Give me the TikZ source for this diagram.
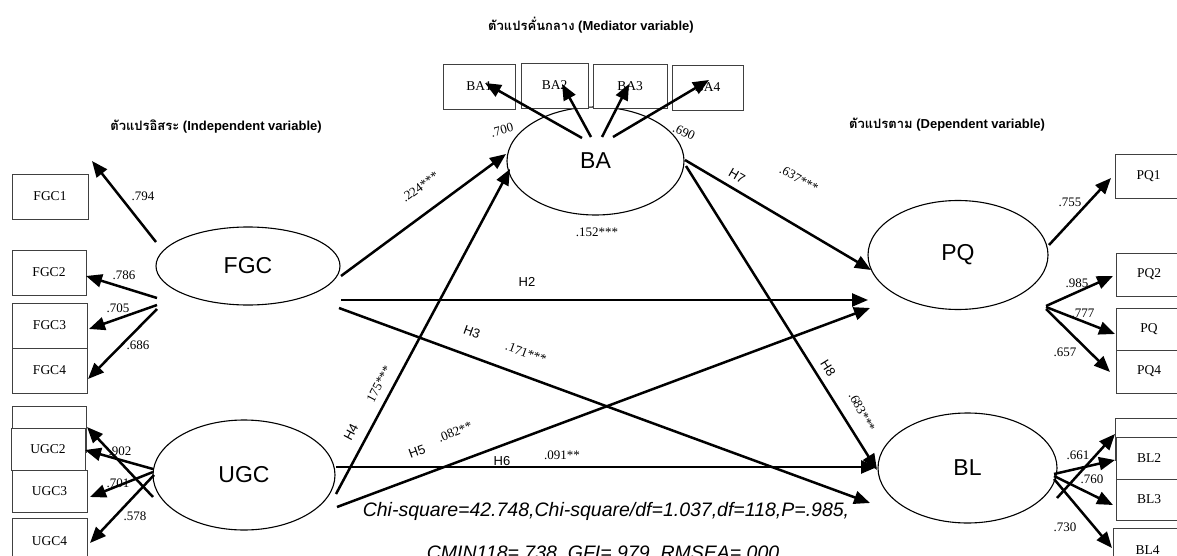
\documentclass[tikz,border=0pt]{standalone}
\usepackage{fontspec}
\setmainfont{Liberation Sans}
\newfontfamily\tnr{Liberation Serif}
\newfontfamily\thaifont[Script=Thai]{Loma}
\usetikzlibrary{arrows.meta,shapes.geometric}
\begin{document}
\begin{tikzpicture}[x=1pt,y=-1pt,
  arr/.style={line width=2.5pt,-{Triangle[length=16pt,width=13pt]}},
  box/.style={draw=black!75,line width=0.9pt,fill=white,inner sep=0pt,font=\tnr\fontsize{13.5}{15}\selectfont},
  lat/.style={ellipse,draw,line width=1.1pt,inner sep=0pt,font=\fontsize{23}{26}\selectfont},
  num/.style={font=\tnr\fontsize{13}{15}\selectfont,inner sep=0pt},
  hyp/.style={font=\fontsize{13}{15}\selectfont,inner sep=0pt},
  head/.style={font=\bfseries\fontsize{13}{15}\selectfont,inner sep=0pt},
  fit/.style={font=\itshape\fontsize{19.5}{22}\selectfont,inner sep=0pt,anchor=base},
]
\useasboundingbox (0,0) rectangle (1177,556);

% headings
\node[head] (hMed) at (591,25) {{\thaifont\bfseries ตัวแปรคั่นกลาง} (Mediator variable)};
\node[head] (hInd) at (216,127) {{\thaifont\bfseries ตัวแปรอิสระ} (Independent variable)};
\node[head] (hDep) at (947,125) {{\thaifont\bfseries ตัวแปรตาม} (Dependent variable)};

% latent variables
\node[lat,minimum width=184pt,minimum height=78pt] (FGC) at (248,266) {FGC};
\node[lat,minimum width=182pt,minimum height=110pt] (UGC) at (244,475) {UGC};
\node[lat,minimum width=177pt,minimum height=108pt] (BA) at (595.5,161) {BA};
\node[lat,minimum width=180pt,minimum height=109pt] (PQ) at (958,255) {PQ};
\node[lat,minimum width=179pt,minimum height=110pt] (BL) at (967.5,468) {BL};

% left boxes
\node[box,minimum width=76pt,minimum height=45pt] (FGC1) at (50,196.5) {FGC1};
\node[box,minimum width=74pt,minimum height=45pt] (FGC2) at (49,272.5) {FGC2};
\node[box,minimum width=75pt,minimum height=45pt] (FGC3) at (49.5,325.5) {FGC3};
\node[box,minimum width=75pt,minimum height=45pt] (FGC4) at (49.5,370.5) {FGC4};
\node[box,minimum width=74pt,minimum height=46pt] (UGC1) at (49,429) {};
\node[box,minimum width=74pt,minimum height=42pt] (UGC2) at (48,449) {UGC2};
\node[box,minimum width=75pt,minimum height=42pt] (UGC3) at (49.5,491) {UGC3};
\node[box,minimum width=75pt,minimum height=47pt] (UGC4) at (49.5,541.5) {UGC4};

% BA boxes
\node[box,minimum width=72pt,minimum height=45pt] (BA1) at (479,86.5) {BA1};
\node[box,minimum width=67pt,minimum height=45pt] (BA2) at (554.5,85.5) {BA2};
\node[box,minimum width=74pt,minimum height=44pt] (BA3) at (630,86) {BA3};
\node[box,minimum width=71pt,minimum height=45pt] (BA4) at (707.5,87.5) {BA4};

% right boxes
\node[box,minimum width=67pt,minimum height=44pt] (PQ1) at (1148.5,176) {PQ1};
\node[box,minimum width=66pt,minimum height=43pt] (PQ2) at (1149,274.5) {PQ2};
\node[box,minimum width=66pt,minimum height=42pt] (PQ3) at (1149,329) {PQ};
\node[box,minimum width=66pt,minimum height=43pt] (PQ4) at (1149,371.5) {PQ4};
\node[box,minimum width=67pt,minimum height=42pt] (BL1) at (1148.5,439) {};
\node[box,minimum width=66pt,minimum height=42pt] (BL2) at (1149,458) {BL2};
\node[box,minimum width=66pt,minimum height=41pt] (BL3) at (1149,499.5) {BL3};
\node[box,minimum width=69pt,minimum height=44pt] (BL4) at (1147.5,550) {BL4};

% connector end points
\coordinate (fs1) at (156,242);  \coordinate (ft1) at (92,161);
\coordinate (fs2) at (157,298);  \coordinate (ft2) at (86,276);
\coordinate (fs3) at (157,305);  \coordinate (ft3) at (89,329);
\coordinate (fs4) at (157,309);  \coordinate (ft4) at (88,379);
\coordinate (us1) at (153,497);  \coordinate (ut1) at (87,427);
\coordinate (us2) at (153,469);  \coordinate (ut2) at (85,450);
\coordinate (us3) at (153,472);  \coordinate (ut3) at (90,497);
\coordinate (us4) at (154,475);  \coordinate (ut4) at (90,543);
\coordinate (bs1) at (582,138);  \coordinate (bt1) at (485,83);
\coordinate (bs2) at (591,137);  \coordinate (bt2) at (562,84);
\coordinate (bs3) at (602,137);  \coordinate (bt3) at (629,84);
\coordinate (bs4) at (613,137);  \coordinate (bt4) at (709,80);
\coordinate (ps1) at (1049,245); \coordinate (pt1) at (1111,178);
\coordinate (ps2) at (1046,306); \coordinate (pt2) at (1113,276);
\coordinate (ps3) at (1046,307); \coordinate (pt3) at (1115,334);
\coordinate (ps4) at (1046,309); \coordinate (pt4) at (1110,372);
\coordinate (ls1) at (1057,498); \coordinate (lt1) at (1115,434);
\coordinate (ls2) at (1054,474); \coordinate (lt2) at (1115,460);
\coordinate (ls3) at (1054,476); \coordinate (lt3) at (1113,505);
\coordinate (ls4) at (1054,479); \coordinate (lt4) at (1112,548);

\coordinate (fgcBAs) at (341,276); \coordinate (fgcBAt) at (506,154);
\coordinate (ugcBAs) at (336,494); \coordinate (ugcBAt) at (510,169);
\coordinate (fgcPQs) at (341,300); \coordinate (fgcPQt) at (868,300);
\coordinate (fgcBLs) at (339,308); \coordinate (fgcBLt) at (870,503);
\coordinate (ugcPQs) at (337,507); \coordinate (ugcPQt) at (870,308);
\coordinate (ugcBLs) at (336,467); \coordinate (ugcBLt) at (877,467);
\coordinate (baPQs)  at (685,160); \coordinate (baPQt)  at (871,270);
\coordinate (baBLs)  at (686,166); \coordinate (baBLt)  at (877,470);

% measurement arrows
\foreach \s/\t in {fs1/ft1,fs2/ft2,fs3/ft3,fs4/ft4,us1/ut1,us2/ut2,us3/ut3,us4/ut4,
                   bs1/bt1,bs2/bt2,bs3/bt3,bs4/bt4,ps1/pt1,ps2/pt2,ps3/pt3,ps4/pt4,
                   ls1/lt1,ls2/lt2,ls3/lt3,ls4/lt4}
  \draw[arr] (\s) -- (\t);

% structural arrows
\foreach \s/\t in {fgcBAs/fgcBAt,ugcBAs/ugcBAt,fgcPQs/fgcPQt,fgcBLs/fgcBLt,
                   ugcPQs/ugcPQt,ugcBLs/ugcBLt,baPQs/baPQt,baBLs/baBLt}
  \draw[arr] (\s) -- (\t);

% loadings
\node[num] (l794) at (143,196) {.794};
\node[num] (l786) at (124,275) {.786};
\node[num] (l705) at (118,308) {.705};
\node[num] (l686) at (138,345) {.686};
\node[num] (l902) at (120,451) {.902};
\node[num] (l701) at (118,483) {.701};
\node[num] (l578) at (135,516) {.578};
\node[num] (l755) at (1070,202) {.755};
\node[num] (l985) at (1077,283) {.985};
\node[num] (l777) at (1083,313) {.777};
\node[num] (l657) at (1065,352) {.657};
\node[num] (l661) at (1078,455) {.661};
\node[num] (l760) at (1092,479) {.760};
\node[num] (l730) at (1065,527) {.730};
\node[num,rotate=15] (l700) at (502,130) {.700};
\node[num,rotate=-25] (l690) at (684,132) {.690};
\node[num] (l152) at (597,232) {.152***};

% path labels
\node[num,rotate=36] (c224) at (420,187) {.224***};
\node[hyp,rotate=62] (h4) at (351,432) {H4};
\node[num,rotate=62] (c175) at (379,384) {175***};
\node[hyp] (h2) at (527,282) {H2};
\node[hyp,rotate=-20] (h3) at (472,332) {H3};
\node[num,rotate=-20] (c171) at (526,353) {.171***};
\node[hyp,rotate=20] (h5) at (417,452) {H5};
\node[num,rotate=22] (c082) at (455,432) {.082**};
\node[hyp] (h6) at (502,461) {H6};
\node[num] (c091) at (562,455) {.091**};
\node[hyp,rotate=-30] (h7) at (737,176) {H7};
\node[num,rotate=-30] (c637) at (799,179) {.637***};
\node[hyp,rotate=-58] (h8) at (828,368) {H8};
\node[num,rotate=-62] (c683) at (862,412) {.683***};

% fit indices
\node[fit] (fitA) at (606,516) {Chi-square=42.748,Chi-square/df=1.037,df=118,P=.985,};
\node[fit] (fitB) at (603,559) {CMIN118=.738, GFI=.979, RMSEA=.000};
\end{tikzpicture}
\end{document}
